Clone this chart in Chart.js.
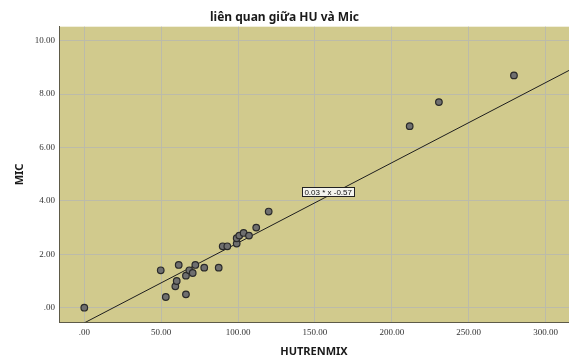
<!DOCTYPE html>
<html><head><meta charset="utf-8">
<script src="https://cdn.jsdelivr.net/npm/chart.js@4.4.1/dist/chart.umd.min.js"></script>
<style>html,body{margin:0;padding:0;background:#fff;} #wrap{width:569px;height:357px;position:relative;}</style>
</head><body><div id="wrap"><canvas id="c"></canvas></div>
<script>
// ---- data ----
const hutrenmix = [0, 49.7, 53, 59.2, 60.1, 61.4, 66.1, 66.1, 68.3, 70.5, 72.2, 78, 87.4, 90, 93, 99.1, 99.1, 100.8, 103.6, 107.1, 111.8, 119.9, 211.6, 230.6, 279.4];
const mic       = [0, 1.4, 0.4, 0.8, 1.0, 1.6, 1.2, 0.5, 1.4, 1.3, 1.6, 1.5, 1.5, 2.3, 2.3, 2.4, 2.6, 2.7, 2.8, 2.7, 3.0, 3.6, 6.8, 7.7, 8.7];
const xTicks = [0, 50, 100, 150, 200, 250, 300];
const yTicks = [0, 2, 4, 6, 8, 10];
const xRange = [-16.45, 315.2];
const yRange = [-0.547, 10.524];
const fitSlope = 0.03;
const fitIntercept = -0.57;
const fitLabel = '0.03 * x -0.57';
const fitLabelAt = [158.6, 4.35];
const chartTitle = 'liên quan giữa HU và Mic';
const xTitle = 'HUTRENMIX';
const yTitle = 'MIC';

function fmt(v){ const s = v.toFixed(2); return s.startsWith('0.') ? s.slice(1) : s; }

const points = hutrenmix.map((x, i) => ({x, y: mic[i]}));
const fitPoints = [0, xRange[1]].map(x => ({x, y: fitSlope * x + fitIntercept}));

const plotBg = {
  id: 'plotBg',
  beforeDraw(chart) {
    const {ctx, chartArea: a} = chart;
    ctx.save();
    ctx.fillStyle = '#d1ca8d';
    ctx.fillRect(a.left, a.top, a.right - a.left, a.bottom - a.top);
    ctx.restore();
  }
};
const fitBox = {
  id: 'fitBox',
  afterDatasetsDraw(chart) {
    const {ctx} = chart;
    const px = chart.scales.x.getPixelForValue(fitLabelAt[0]);
    const py = chart.scales.y.getPixelForValue(fitLabelAt[1]);
    ctx.save();
    ctx.font = '8px "Liberation Sans", Arial, sans-serif';
    const w = ctx.measureText(fitLabel).width + 4;
    const h = 9;
    ctx.fillStyle = '#f4f4ee';
    ctx.fillRect(Math.round(px - w/2) + 0.5, Math.round(py - h/2) + 0.5, Math.round(w), h);
    ctx.strokeStyle = '#222';
    ctx.lineWidth = 1;
    ctx.strokeRect(Math.round(px - w/2) + 0.5, Math.round(py - h/2) + 0.5, Math.round(w), h);
    ctx.fillStyle = '#111';
    ctx.textAlign = 'center';
    ctx.textBaseline = 'middle';
    ctx.fillText(fitLabel, px, py + 1);
    ctx.restore();
  }
};

new Chart(document.getElementById('c'), {
  type: 'scatter',
  data: {
    datasets: [
      { label: 'MIC', data: points, pointRadius: 3.3, pointHoverRadius: 3.3,
        backgroundColor: '#6f6f6f', borderColor: '#2a2a2a', borderWidth: 1.2 },
      { label: 'fit', type: 'line', data: fitPoints, showLine: true, pointRadius: 0,
        borderColor: '#1e1e1e', borderWidth: 1, fill: false }
    ]
  },
  options: {
    responsive: true, maintainAspectRatio: false, animation: false,
    layout: { padding: 0, autoPadding: false },
    plugins: {
      legend: { display: false }, tooltip: { enabled: false },
      title: { display: true, text: chartTitle, color: '#1a1a1a',
        font: { family: '"Noto Sans", sans-serif', size: 12, weight: 'bold', lineHeight: 1.2 },
        padding: { top: 10.3, bottom: 2.0 } }
    },
    scales: {
      x: {
        type: 'linear', min: xRange[0], max: xRange[1],
        afterBuildTicks: s => { s.ticks = xTicks.map(v => ({value: v})); },
        afterFit: s => { s.height = 34.7; s.paddingLeft = 0; s.paddingRight = 0; },
        grid: { color: '#bcbba9', lineWidth: 1, drawTicks: false },
        border: { display: true, color: '#5d5a48', width: 1 },
        ticks: { padding: 5, color: '#333', font: { family: '"Liberation Serif", serif', size: 9 },
          callback: v => fmt(v), maxRotation: 0 },
        title: { display: true, text: xTitle, color: '#1a1a1a', padding: 0,
          font: { family: '"Noto Sans", sans-serif', size: 11, weight: 'bold', lineHeight: 1 } }
      },
      y: {
        type: 'linear', min: yRange[0], max: yRange[1],
        afterBuildTicks: s => { s.ticks = yTicks.map(v => ({value: v})); },
        afterFit: s => { s.width = 59; s.paddingTop = 0; s.paddingBottom = 0; },
        grid: { color: '#bcbba9', lineWidth: 1, drawTicks: false },
        border: { display: true, color: '#5d5a48', width: 1 },
        ticks: { padding: 4, color: '#333', font: { family: '"Liberation Serif", serif', size: 9 },
          callback: v => fmt(v) },
        title: { display: true, text: yTitle, color: '#1a1a1a', padding: { top: 14.5, bottom: 0 },
          font: { family: '"Noto Sans", sans-serif', size: 11, weight: 'bold', lineHeight: 1 } }
      }
    }
  },
  plugins: [plotBg, fitBox]
});
</script></body></html>
